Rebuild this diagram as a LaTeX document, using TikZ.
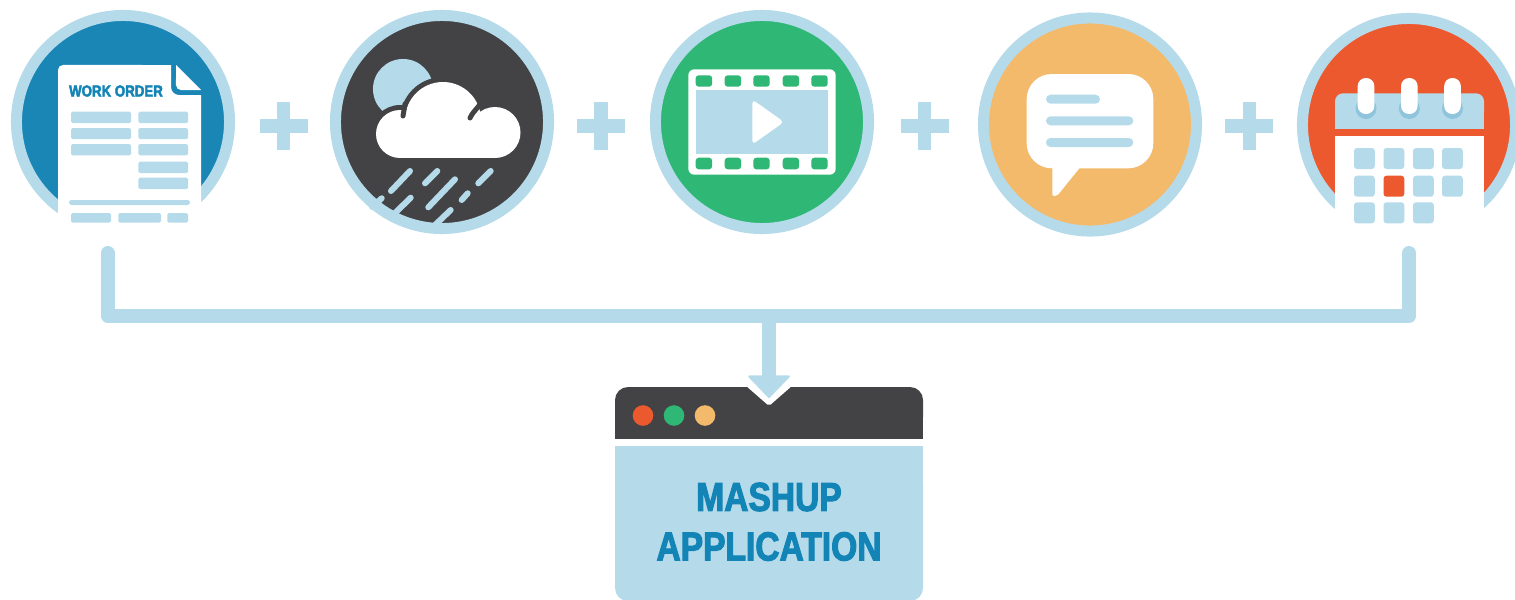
\documentclass[tikz,border=0pt]{standalone}
\usepackage{fontspec}
\usetikzlibrary{arrows.meta}
\newfontfamily\labelfont[FakeStretch=0.83,FakeBold=2.6]{Liberation Sans}
\definecolor{paleblue}{HTML}{B5DBEB}
\definecolor{shadeblue}{HTML}{90C4DC}
\definecolor{docblue}{HTML}{1A86B6}
\definecolor{textblue}{HTML}{1384B6}
\definecolor{coal}{HTML}{434345}
\definecolor{filmgreen}{HTML}{2FB775}
\definecolor{chatorange}{HTML}{F3BA6C}
\definecolor{calred}{HTML}{EC592E}
\tikzset{
  ring/.style={circle, draw=paleblue, line width=0.11cm, minimum size=2.13cm, inner sep=0pt},
  flowline/.style={draw=paleblue, line width=0.14cm, line join=round},
  rowbar/.style={fill=paleblue, rounded corners=0.015cm},
  pillbar/.style={fill=paleblue, rounded corners=0.045cm},
  rainline/.style={draw=paleblue, line width=0.06cm, line cap=round},
  filmhole/.style={fill=filmgreen, rounded corners=0.03cm},
  calcell/.style={fill=paleblue, rounded corners=0.03cm},
  caption/.style={text=textblue, inner sep=0pt, font=\labelfont\bfseries},
}
\begin{document}
\begin{tikzpicture}[x=0.01cm, y=-0.01cm]
\useasboundingbox (0,0) rectangle (1515,600);
\clip (0,0) rectangle (1515,600);

\node[ring, fill=docblue] (docring) at (123,122) {};
\node[ring, fill=coal] (rainring) at (442,122) {};
\node[ring, fill=filmgreen] (filmring) at (762,122) {};
\node[ring, fill=chatorange] (chatring) at (1090,124.5) {};
\node[ring, fill=calred] (calring) at (1409,125) {};

\foreach \x in {283.7,601,924.5,1249.3} {
  \draw[paleblue, line width=0.135cm] (\x-24,126) -- (\x+24,126);
  \draw[paleblue, line width=0.135cm] (\x,102) -- (\x,150);
}

\fill[white] (58,240) -- (58,70) arc[start angle=180, end angle=90, radius=0.05cm] -- (171,65)
  -- (171,87) arc[start angle=180, end angle=270, radius=0.08cm] -- (201,95) -- (201,240) -- cycle;
\fill[white] (176,65) -- (201,90) -- (181,90) arc[start angle=270, end angle=180, radius=0.05cm] -- cycle;
\node[caption, font=\labelfont\bfseries\fontsize{4.55}{5}\selectfont] (workorder) at (116,91) {WORK ORDER};
\foreach \y/\h in {111.7/11.3,128/11,144/11.3} \fill[rowbar] (71,\y) rectangle (131,\y+\h);
\foreach \y/\h in {111.7/11.3,128/11,144/11.3,161.7/11.3,177.7/11.3} \fill[rowbar] (138.3,\y) rectangle (188,\y+\h);
\fill[paleblue, rounded corners=0.025cm] (69,200) rectangle (190,205);
\foreach \a/\b in {71/111,118.3/161,167.3/188} \fill[rowbar] (\a,213) rectangle (\b,222.7);

\fill[paleblue] (403,89) circle[radius=0.3cm];
\foreach \a/\b/\r in {400/134/24,443/120/38,495/132.5/25.5} \fill[coal] (\a,\b) circle[radius=0.01cm*\r+0.05cm];
\foreach \a/\b/\r in {400/134/24,443/120/38,495/132.5/25.5} \fill[white] (\a,\b) circle[radius=0.01cm*\r];
\fill[white] (400,120) rectangle (495,158);
\draw[coal, line width=0.05cm, line cap=round] (403,116) -- (405,104);
\draw[coal, line width=0.05cm, line cap=round] (470,118) .. controls (472,113) and (476,110) .. (481,103);
\foreach \a/\b/\c/\d in {410/171/391/191,437.3/171/425/183.3,490.7/171/478.3/183.3,455/179.3/428.3/207.3,467.7/193.3/461.7/200,410.7/197.7/392/216,450.7/210/434/226,381.7/198.3/372/207}
  \draw[rainline] (\a,\b) -- (\c,\d);

\fill[white, rounded corners=0.06cm] (688.3,69.3) rectangle (835.7,174.7);
\foreach \x in {695.7,724.7,753.3,782.7,811.3} {
  \fill[filmhole] (\x,75.3) rectangle (\x+16.4,86.7);
  \fill[filmhole] (\x,157.7) rectangle (\x+16.4,169.3);
}
\fill[paleblue] (695.7,89.7) rectangle (828.3,154);
\fill[white, rounded corners=0.04cm] (752.3,99.5) -- (784,122) -- (752.3,144.5) -- cycle;

\fill[white, rounded corners=0.25cm] (1026.7,74) rectangle (1153.3,168.3);
\fill[white, rounded corners=0.02cm] (1052.3,160) -- (1052.3,196) -- (1057,196) -- (1086,160) -- cycle;
\fill[pillbar] (1046,94.7) rectangle (1100,103.7);
\fill[pillbar] (1046,116.3) rectangle (1133.3,125.3);
\fill[pillbar] (1046,138) rectangle (1133.3,147);

\fill[white] (1335,136) rectangle (1484,240);
\fill[paleblue, rounded corners=0.08cm] (1335,93.3) rectangle (1484,120);
\fill[paleblue] (1335,105) rectangle (1484,129);
\foreach \x in {1366,1409.3,1452.5} {
  \fill[shadeblue] (\x,108.5) circle[radius=0.105cm];
  \fill[white, rounded corners=0.08cm] (\x-8.3,78) rectangle (\x+8.3,114);
}
\foreach \x in {1354,1383.5,1413,1442} \fill[calcell] (\x,148) rectangle (\x+20.8,169);
\foreach \x in {1354,1413,1442} \fill[calcell] (\x,175.7) rectangle (\x+20.8,196.7);
\fill[calred, rounded corners=0.03cm] (1383.5,175.7) rectangle (1404.3,196.7);
\foreach \x in {1354,1383.5,1413} \fill[calcell] (\x,202.3) rectangle (\x+20.8,223.3);

\fill[coal, rounded corners=0.13cm] (615,387) rectangle (923,430);
\fill[coal] (615,410) rectangle (923,439);
\fill[white, rounded corners=0.02cm] (745,385) -- (769,406) -- (793,385) -- cycle;
\fill[paleblue, rounded corners=0.13cm] (615,470) rectangle (923,601);
\fill[paleblue] (615,446) rectangle (923,520);
\foreach \x/\c in {643/calred,674/filmgreen,705/chatorange} \fill[\c] (\x,415.5) circle[radius=0.103cm];
\node[caption, font=\labelfont\bfseries\fontsize{11.5}{12}\selectfont] (mashup) at (769,497) {MASHUP};
\node[caption, font=\labelfont\bfseries\fontsize{11.5}{12}\selectfont] (application) at (769,546.5) {APPLICATION};

\coordinate (docdrop) at (107.7,253);
\coordinate (docbend) at (107.7,316);
\coordinate (calbend) at (1409,316);
\coordinate (caldrop) at (1409,253);
\coordinate (barmid) at (769,316);
\coordinate (apptip) at (769,398);
\draw[flowline, line cap=round] (docdrop) -- (docbend) -- (calbend) -- (caldrop);
\draw[flowline, -{Triangle[length=0.23cm, width=0.44cm, line width=0.02cm, round]}] (barmid) -- (apptip);
\end{tikzpicture}
\end{document}
